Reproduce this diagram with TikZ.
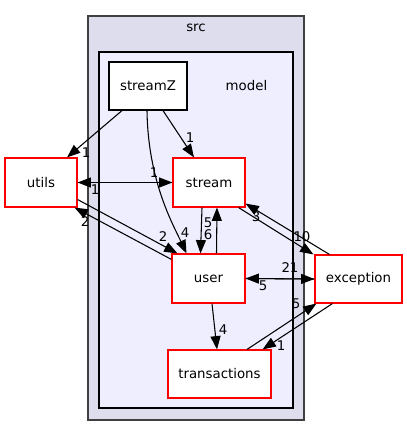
\documentclass[tikz,border=0pt]{standalone}
\usepackage{fontspec}
\setmainfont{DejaVu Sans}
\usetikzlibrary{arrows.meta,calc}
\definecolor{srcfill}{HTML}{DDDDEE}
\definecolor{modelfill}{HTML}{EEEEFF}
\definecolor{frame}{HTML}{404040}
\tikzset{
  box/.style={draw=red, fill=white, line width=0.85pt, inner sep=0pt, font=\fontsize{10}{12}\selectfont},
  plainbox/.style={box, draw=black},
  conn/.style={draw=black, line width=0.8pt, -{Triangle[length=10pt,width=7.5pt]}},
  lbl/.style={inner sep=0pt, font=\fontsize{10}{12}\selectfont},
  clustertext/.style={inner sep=0pt, font=\fontsize{10}{12}\selectfont}
}
\begin{document}
\begin{tikzpicture}[x=0.75pt,y=-0.75pt]
\useasboundingbox (0,0) rectangle (407,436);
% clusters
\draw[fill=srcfill, draw=frame, line width=1.3pt] (88,16) rectangle (304,420);
\node[clustertext] (srclbl) at (196,28) {src};
\draw[fill=modelfill, draw=black, line width=0.85pt] (99,52) rectangle (293,408);
\node[clustertext] (modellbl) at (246.5,86) {model};
% nodes
\node[plainbox, minimum width=58.5pt, minimum height=36pt] (streamZ) at (148,86) {streamZ};
\node[box, minimum width=54pt, minimum height=36.75pt] (utils) at (41,182.5) {utils};
\node[box, minimum width=54pt, minimum height=36.75pt] (stream) at (209,182.5) {stream};
\node[box, minimum width=54.75pt, minimum height=36.75pt] (user) at (208.5,278.5) {user};
\node[box, minimum width=65.25pt, minimum height=36pt] (exception) at (358.5,279) {exception};
\node[box, minimum width=77.25pt, minimum height=36pt] (transactions) at (219.5,374) {transactions};
% edges
\draw[conn] ($(streamZ.south)+(-26,0)$) -- ($(utils.north)+(26,0)$);
\draw[conn] ($(streamZ.south)+(15,0)$) -- ($(stream.north)+(-15,0)$);
\draw[conn] ($(streamZ.south)+(-1,0)$) .. controls ($(streamZ.south)+(0,70)$) and ($(user.north)+(-36,-30)$) .. ($(user.north)+(-22,0)$);
\draw[conn] (utils.east) -- (stream.west);
\draw[conn] (stream.west) -- (utils.east);
\draw[conn] ($(utils.east)+(0,17)$) -- ($(user.north)+(-31,0)$);
\draw[conn] ($(user.north west)+(0,6)$) -- ($(utils.south east)+(-3,0)$);
\draw[conn] ($(stream.south)+(-7,0)$) -- ($(user.north)+(-8,0)$);
\draw[conn] ($(user.north)+(8,0)$) -- ($(stream.south)+(8,0)$);
\draw[conn] ($(stream.south east)+(-7,0)$) -- ($(exception.north west)+(-1,0)$);
\draw[conn] ($(exception.north west)+(15,0)$) -- ($(stream.south east)+(0,-4)$);
\draw[conn] (user.east) -- (exception.west);
\draw[conn] (exception.west) -- (user.east);
\draw[conn] ($(transactions.north)+(27.5,0)$) -- ($(exception.south west)+(2,0)$);
\draw[conn] ($(exception.south west)+(18,0)$) -- ($(transactions.north east)+(-9,0)$);
\draw[conn] ($(user.south)+(3.5,0)$) -- ($(transactions.north)+(-2.5,0)$);
% labels
\node[lbl] (l1) at (86,153) {1};
\node[lbl] (l2) at (190,138) {1};
\node[lbl] (l3) at (185,233) {4};
\node[lbl] (l4) at (154,173) {1};
\node[lbl] (l5) at (95,190) {1};
\node[lbl] (l6) at (163,237) {2};
\node[lbl] (l7) at (85,222) {2};
\node[lbl] (l8) at (208,223) {5};
\node[lbl] (l9) at (208,235) {6};
\node[lbl] (l10) at (302,237) {10};
\node[lbl] (l11) at (256,217) {3};
\node[lbl] (l12) at (290,268) {21};
\node[lbl] (l13) at (263,286) {5};
\node[lbl] (l14) at (296,304) {5};
\node[lbl] (l15) at (281,346) {1};
\node[lbl] (l16) at (223,330) {4};
\end{tikzpicture}
\end{document}
